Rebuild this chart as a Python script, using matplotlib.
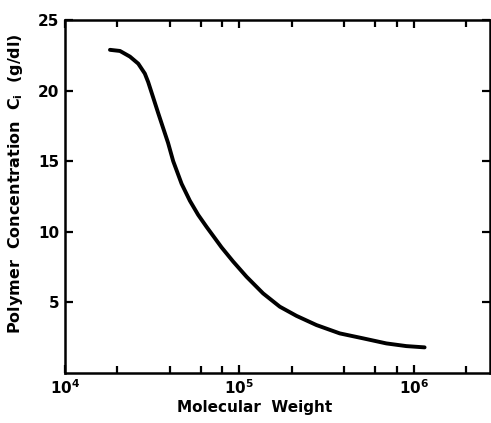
import matplotlib
matplotlib.use("Agg")
import matplotlib.pyplot as plt
from matplotlib.ticker import FixedLocator, NullFormatter

# curve
mol_weight = [1.811e4, 2.067e4, 2.358e4, 2.632e4, 2.87e4, 3.0e4, 3.206e4, 3.425e4,
              3.659e4, 3.9e4, 4.175e4, 4.665e4, 5.203e4, 5.806e4, 6.487e4, 7.237e4,
              7.907e4, 9.21e4, 1.1e5, 1.369e5, 1.707e5, 2.128e5, 2.77e5, 3.767e5,
              5.123e5, 6.976e5, 9.08e5, 1.156e6]
conc = [22.88, 22.80, 22.40, 21.9, 21.2, 20.6, 19.5, 18.4,
        17.33, 16.3, 15.0, 13.4, 12.2, 11.2, 10.35, 9.55,
        8.9, 7.9, 6.82, 5.64, 4.70, 4.05, 3.40, 2.81,
        2.46, 2.10, 1.91, 1.82]

x_major = [1e4, 1e5, 1e6]
x_major_labels = [r"$\mathbf{10^4}$", r"$\mathbf{10^5}$", r"$\mathbf{10^6}$"]
x_minor = [m * 10 ** e for e in (4, 5, 6) for m in (2, 4, 6, 8)]
y_ticks = [5, 10, 15, 20, 25]

plt.rcParams["font.family"] = "DejaVu Sans"
plt.rcParams["font.weight"] = "bold"

fig = plt.figure(figsize=(4.91, 4.23), dpi=100)
ax = fig.add_axes([0.1324, 0.118, 0.866, 0.835])

ax.plot(mol_weight, conc, color="black", linewidth=2.8,
        solid_capstyle="round", solid_joinstyle="round")

ax.set_xscale("log")
ax.set_xlim(1e4, 2.75e6)
ax.set_ylim(0, 25)

ax.xaxis.set_major_locator(FixedLocator(x_major))
ax.set_xticklabels(x_major_labels)
ax.xaxis.set_minor_locator(FixedLocator([v for v in x_minor if v < 2.75e6]))
ax.xaxis.set_minor_formatter(NullFormatter())
ax.set_yticks(y_ticks)
ax.set_yticklabels([str(v) for v in y_ticks], fontweight="bold")

ax.tick_params(which="both", direction="in", top=True, right=True, width=1.6,
               labelsize=11, pad=4)
ax.tick_params(which="major", length=6)
ax.tick_params(which="minor", length=5)
for s in ax.spines.values():
    s.set_linewidth(1.8)

ax.set_xlabel("Molecular  Weight", fontsize=11, fontweight="bold")
ax.xaxis.set_label_coords(0.445, -0.075)
ax.set_ylabel(r"Polymer  Concentration  C$_\mathbf{i}$  (g/dl)", fontsize=11.5,
              fontweight="bold")
ax.yaxis.set_label_coords(-0.095, 0.537)

fig.savefig("out.png", dpi=100)
